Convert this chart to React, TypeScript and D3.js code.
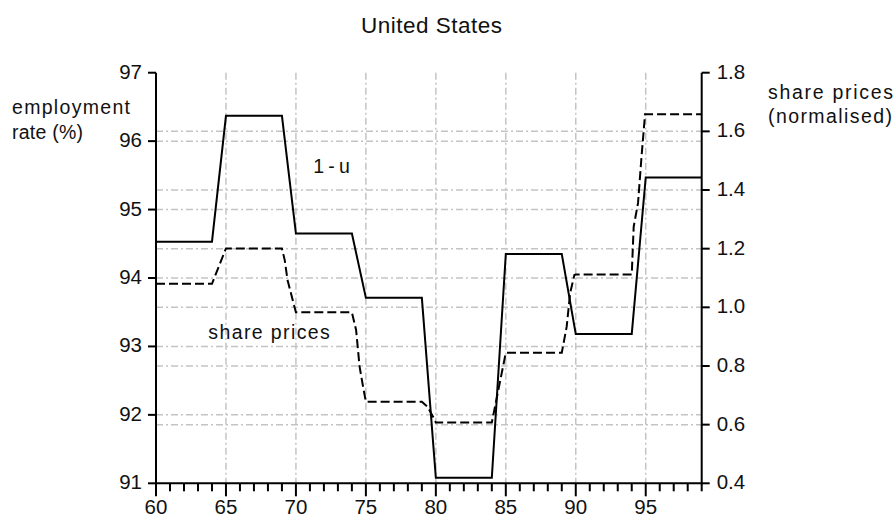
import React from "react";
import * as d3 from "d3";

const title = "United States";
const leftTicks = [91, 92, 93, 94, 95, 96, 97];
const rightTicks = [0.4, 0.6, 0.8, 1.0, 1.2, 1.4, 1.6, 1.8];
const xMajorTicks = [60, 65, 70, 75, 80, 85, 90, 95];
const xMinorTicks = d3.range(60, 100);

// 1-u (employment rate, %), left axis
const empYears = [60, 64, 65, 69, 70, 74, 75, 79, 80, 84, 85, 89, 90, 94, 95, 99];
const empValues = [94.53, 94.53, 96.37, 96.37, 94.65, 94.65, 93.71, 93.71, 91.08, 91.08, 94.35, 94.35, 93.18, 93.18, 95.47, 95.47];

// share prices (normalised), right axis
const shareYears = [60, 64, 65, 69, 69.2, 69.4, 69.8, 70, 74, 74.3, 74.55, 74.8, 75, 79, 79.4, 79.8, 80, 84, 85, 89, 89.35, 89.6, 89.9, 90, 94, 94.14, 94.45, 94.7, 94.95, 99];
const shareValues = [1.08, 1.08, 1.201, 1.201, 1.161, 1.093, 1.019, 0.983, 0.983, 0.923, 0.798, 0.729, 0.678, 0.678, 0.661, 0.627, 0.607, 0.607, 0.845, 0.845, 0.934, 1.049, 1.11, 1.112, 1.112, 1.275, 1.356, 1.514, 1.658, 1.658];

const W = 895;
const H = 518;
const L = 156;
const R = 701.7;
const T = 72.7;
const B = 483.3;

const FONT = "Arial, 'Liberation Sans', Helvetica, sans-serif";

export default function App() {
  const x = d3.scaleLinear().domain([60, 99]).range([L, R]);
  const yL = d3.scaleLinear().domain([91, 97]).range([B, T]);
  const yR = d3.scaleLinear().domain([0.4, 1.8]).range([B, T]);

  const empLine = d3
    .line<number>()
    .x((_, i) => x(empYears[i]))
    .y((d) => yL(d));
  const shareLine = d3
    .line<number>()
    .x((_, i) => x(shareYears[i]))
    .y((d) => yR(d));

  const grid = "#c4c4c4";
  const gridDash = "7,3,2,3";

  return (
    <div style={{ position: "absolute", left: 0, top: 0 }}>
      <svg width={W} height={H} style={{ display: "block", background: "#fff" }} fontFamily={FONT}>
        {/* title */}
        <text x={431.5} y={33.3} textAnchor="middle" fontSize={22.5} fill="#111" textLength={141} lengthAdjust="spacing">
          {title}
        </text>

        {/* gridlines */}
        <g stroke={grid} strokeWidth={1.5} strokeDasharray={gridDash} fill="none">
          {xMajorTicks
            .filter((t) => t !== 60)
            .map((t) => (
              <line key={"vx" + t} x1={x(t)} x2={x(t)} y1={T} y2={B} />
            ))}
          {leftTicks
            .filter((t) => t !== 91 && t !== 97)
            .map((t) => (
              <line key={"hl" + t} x1={L} x2={R} y1={yL(t)} y2={yL(t)} />
            ))}
          {rightTicks
            .filter((t) => t !== 0.4 && t !== 1.8)
            .map((t) => (
              <line key={"hr" + t} x1={L} x2={R} y1={yR(t)} y2={yR(t)} />
            ))}
        </g>

        {/* series */}
        <path d={empLine(empValues) || ""} fill="none" stroke="#000" strokeWidth={2} strokeLinejoin="miter" />
        <path d={shareLine(shareValues) || ""} fill="none" stroke="#000" strokeWidth={2} strokeDasharray="9,4" />

        {/* axes */}
        <g stroke="#000" strokeWidth={2} fill="none">
          <line x1={L} x2={L} y1={T} y2={B + 1} />
          <line x1={R} x2={R} y1={T} y2={B + 1} />
          <line x1={L - 1} x2={R + 1} y1={B} y2={B} />
          {leftTicks.map((t) => (
            <line key={"lt" + t} x1={L - 8} x2={L} y1={yL(t)} y2={yL(t)} />
          ))}
          {rightTicks.map((t) => (
            <line key={"rt" + t} x1={R} x2={R + 8} y1={yR(t)} y2={yR(t)} />
          ))}
          {xMinorTicks.map((t) => (
            <line
              key={"xt" + t}
              x1={x(t)}
              x2={x(t)}
              y1={B}
              y2={B + (xMajorTicks.includes(t) ? 13 : 8)}
            />
          ))}
        </g>

        {/* tick labels */}
        <g fontSize={20.5} fill="#111">
          {leftTicks.map((t) => (
            <text key={"ll" + t} x={L - 14} y={yL(t) + 6} textAnchor="end">
              {d3.format("d")(t)}
            </text>
          ))}
          {rightTicks.map((t) => (
            <text key={"rl" + t} x={R + 15} y={yR(t) + 6} textAnchor="start">
              {d3.format(".1f")(t)}
            </text>
          ))}
          {xMajorTicks.map((t) => (
            <text key={"xl" + t} x={x(t)} y={513.5} textAnchor="middle">
              {t}
            </text>
          ))}
        </g>

        {/* axis titles and series labels */}
        <g fontSize={19.5} fill="#111">
          <text x={12} y={114} textLength={118} lengthAdjust="spacing">employment</text>
          <text x={12} y={139.3} textLength={71} lengthAdjust="spacing">rate (%)</text>
          <text x={768} y={99.3} textLength={125} lengthAdjust="spacing">share prices</text>
          <text x={768} y={123} textLength={124} lengthAdjust="spacing">(normalised)</text>
          <text x={313.3} y={172.7} letterSpacing={-0.6}>1 - u</text>
          <text x={208.3} y={339.3} textLength={121.5} lengthAdjust="spacing">share prices</text>
        </g>
      </svg>
    </div>
  );
}
